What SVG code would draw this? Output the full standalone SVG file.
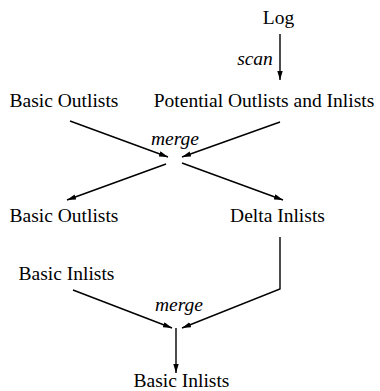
<svg xmlns="http://www.w3.org/2000/svg" width="380" height="391" viewBox="0 0 380 391">
<style>
text{font-family:"Liberation Serif","Times New Roman",serif;font-size:19.5px;fill:#000;text-anchor:middle}
.lbl{font-style:italic}
.c{fill:none;stroke:#000;stroke-width:1.4}
</style>
<defs>
<marker id="ah" viewBox="0 0 10 6" refX="10" refY="3" markerWidth="9" markerHeight="5.4" markerUnits="userSpaceOnUse" orient="auto">
<path d="M0,0 L10,3 L0,6 Z" fill="#000"/>
</marker>
</defs>
<g id="connectors">
<line class="c" x1="280" y1="34" x2="280" y2="80" marker-end="url(#ah)"/>
<line class="c" x1="70" y1="121" x2="168" y2="157" marker-end="url(#ah)"/>
<line class="c" x1="280" y1="122" x2="182" y2="157" marker-end="url(#ah)"/>
<line class="c" x1="166" y1="164" x2="67" y2="200" marker-end="url(#ah)"/>
<line class="c" x1="182" y1="163" x2="283" y2="200" marker-end="url(#ah)"/>
<line class="c" x1="73" y1="290" x2="172" y2="328" marker-end="url(#ah)"/>
<polyline class="c" points="280,237 280,289 182,328" marker-end="url(#ah)"/>
<line class="c" x1="176" y1="328" x2="176" y2="373" marker-end="url(#ah)"/>
<text class="lbl" x="255" y="65">scan</text>
<text class="lbl" x="175" y="145">merge</text>
<text class="lbl" x="179" y="311">merge</text>
</g>
<g id="log"><text x="278.5" y="24">Log</text></g>
<g id="potential"><text x="264" y="107">Potential Outlists and Inlists</text></g>
<g id="basic-outlists-1"><text x="64" y="107">Basic Outlists</text></g>
<g id="basic-outlists-2"><text x="64" y="222">Basic Outlists</text></g>
<g id="delta-inlists"><text x="277.5" y="222">Delta Inlists</text></g>
<g id="basic-inlists-1"><text x="66.5" y="280">Basic Inlists</text></g>
<g id="basic-inlists-2"><text x="181.5" y="387">Basic Inlists</text></g>
</svg>
